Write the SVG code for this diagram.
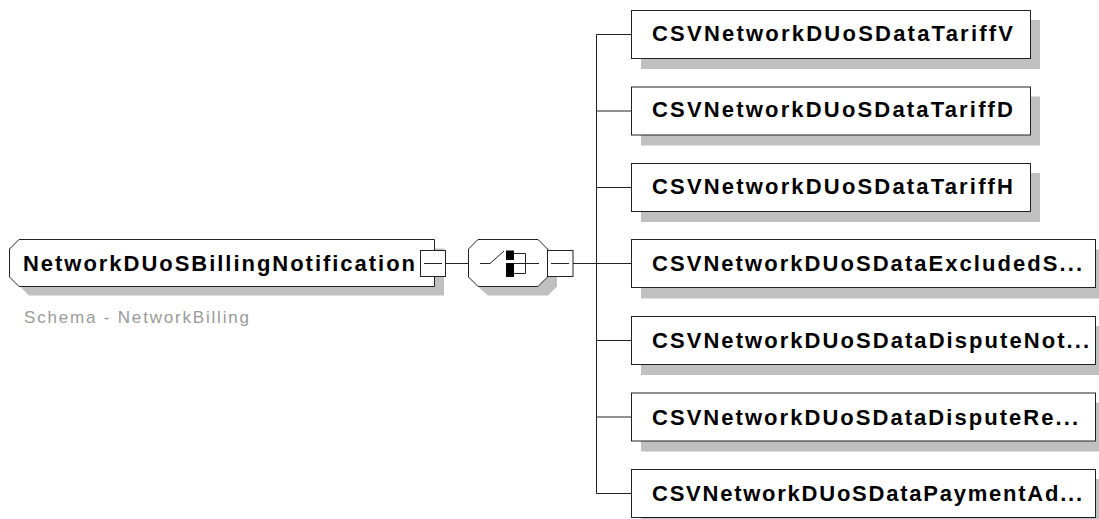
<svg xmlns="http://www.w3.org/2000/svg" width="1099" height="519" viewBox="0 0 1099 519">
<style>
.bg{fill:#ffffff}
.shadow{fill:#c0c0c0}
.box{fill:#ffffff;stroke:#222222;stroke-width:1}
.ln{fill:none;stroke:#222222;stroke-width:1}
.blk{fill:#000000}
.t{font-family:"Liberation Sans",Arial,sans-serif;font-weight:bold;font-size:22px;fill:#000000}
.sub{font-family:"Liberation Sans",Arial,sans-serif;font-size:17px;fill:#9a9a9a}
</style>
<rect class="bg" x="0" y="0" width="1099" height="519"/>
<g id="connectors">
<line class="ln" x1="446" y1="263.5" x2="468" y2="263.5"/>
<line class="ln" x1="573" y1="263.5" x2="596.5" y2="263.5"/>
<line class="ln" x1="596.5" y1="34.5" x2="596.5" y2="493.5"/>
<line class="ln" x1="596.5" y1="34.5" x2="631" y2="34.5"/>
<line class="ln" x1="596.5" y1="111" x2="631" y2="111"/>
<line class="ln" x1="596.5" y1="187.5" x2="631" y2="187.5"/>
<line class="ln" x1="596.5" y1="263.5" x2="631" y2="263.5"/>
<line class="ln" x1="596.5" y1="340.5" x2="631" y2="340.5"/>
<line class="ln" x1="596.5" y1="417" x2="631" y2="417"/>
<line class="ln" x1="596.5" y1="493.5" x2="631" y2="493.5"/>
</g>
<g id="root">
<path class="shadow" d="M29,248.5 L444,248.5 L444,295.5 L29,295.5 L19,285.5 L19,258.5 Z"/>
<path class="box" d="M19,239.5 L434.5,239.5 L434.5,286.5 L19,286.5 L9.5,277 L9.5,249 Z"/>
<rect class="box" x="420.5" y="250.5" width="25" height="26"/>
<line class="ln" x1="424" y1="263.5" x2="442" y2="263.5"/>
<text class="t" x="23" y="271" textLength="392" lengthAdjust="spacing">NetworkDUoSBillingNotification</text>
<text class="sub" x="24" y="323" textLength="225" lengthAdjust="spacing">Schema - NetworkBilling</text>
</g>
<g id="sequence">
<path class="shadow" d="M488,248.5 L548,248.5 L557,257.5 L557,286.5 L548,295.5 L488,295.5 L478,286.5 L478,257.5 Z"/>
<path class="box" d="M478,239.5 L538,239.5 L547.5,249 L547.5,277 L538,286.5 L478,286.5 L468.5,277 L468.5,249 Z"/>
<rect class="box" x="547.5" y="250.5" width="25.5" height="26"/>
<line class="ln" x1="551" y1="263.5" x2="569" y2="263.5"/>
<polyline class="ln" points="480,263.5 490,263.5 504,251"/>
<rect class="blk" x="506" y="250.5" width="8" height="9.5"/>
<rect class="blk" x="506" y="263" width="8" height="14"/>
<polyline class="ln" points="514,253.5 525.5,253.5 525.5,273.5 514,273.5"/>
<line class="ln" x1="514" y1="263.5" x2="539" y2="263.5"/>
</g>
<g id="child1">
<rect class="shadow" x="641" y="20" width="399" height="49"/>
<rect class="box" x="631.5" y="10.5" width="399" height="48"/>
<text class="t" x="652" y="40.5" textLength="361" lengthAdjust="spacing">CSVNetworkDUoSDataTariffV</text>
</g>
<g id="child2">
<rect class="shadow" x="641" y="96.5" width="399" height="49"/>
<rect class="box" x="631.5" y="87" width="399" height="48"/>
<text class="t" x="652" y="117" textLength="361" lengthAdjust="spacing">CSVNetworkDUoSDataTariffD</text>
</g>
<g id="child3">
<rect class="shadow" x="641" y="173" width="399" height="49"/>
<rect class="box" x="631.5" y="163.5" width="399" height="48"/>
<text class="t" x="652" y="193.5" textLength="361" lengthAdjust="spacing">CSVNetworkDUoSDataTariffH</text>
</g>
<g id="child4">
<rect class="shadow" x="641" y="249.5" width="464" height="49"/>
<rect class="box" x="631.5" y="239.5" width="464" height="48"/>
<text class="t" x="652" y="271" textLength="430" lengthAdjust="spacing">CSVNetworkDUoSDataExcludedS...</text>
</g>
<g id="child5">
<rect class="shadow" x="641" y="326" width="464" height="49"/>
<rect class="box" x="631.5" y="316.5" width="464" height="48"/>
<text class="t" x="652" y="348" textLength="437" lengthAdjust="spacing">CSVNetworkDUoSDataDisputeNot...</text>
</g>
<g id="child6">
<rect class="shadow" x="641" y="402.5" width="464" height="49"/>
<rect class="box" x="631.5" y="393" width="464" height="48"/>
<text class="t" x="652" y="424.5" textLength="426" lengthAdjust="spacing">CSVNetworkDUoSDataDisputeRe...</text>
</g>
<g id="child7">
<rect class="shadow" x="641" y="479" width="464" height="49"/>
<rect class="box" x="631.5" y="469.5" width="464" height="48"/>
<text class="t" x="652" y="501" textLength="430" lengthAdjust="spacing">CSVNetworkDUoSDataPaymentAd...</text>
</g>
</svg>
